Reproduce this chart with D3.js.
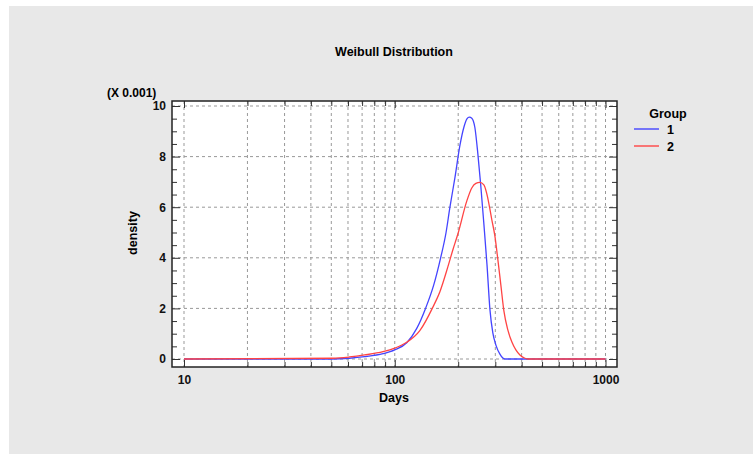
<!DOCTYPE html>
<html lang="en">
<head>
    <meta charset="UTF-8">
    <title>Weibull Distribution</title>
    <style>
        body { margin: 0; background: #fff; }
        svg { display: block; font-family: "Liberation Sans", Arial, sans-serif; }
    </style>
</head>
<body>
    <div id="graphic"></div>

    <script src="https://cdn.jsdelivr.net/npm/d3@7"></script>
    <script>
        var width = 753;
        var height = 454;

        // days, density (x 0.001)
        var group1 = [[10,0],[50.2,0],[61,0.03],[72,0.09],[88,0.21],[100,0.36],[114,0.64],[127,1.2],[140,2.0],
            [153,2.92],[165,3.99],[175,4.98],[182.5,5.97],[193,7.17],[204,8.46],[213,9.17],[220,9.49],[226,9.56],
            [232,9.52],[240,9.15],[248,8.1],[256,6.85],[265,5.3],[274,3.72],[283,1.94],[292,1.03],[302,0.55],
            [315,0.2],[333,0],[1000,0]];
        var group2 = [[10,0],[50.8,0.03],[61,0.08],[72,0.16],[88,0.29],[100,0.43],[114,0.66],[131.5,1.12],[151.5,2.04],
            [163.6,2.65],[178.6,3.64],[188.6,4.31],[199.3,4.94],[219.8,6.25],[232,6.76],[242.6,6.94],[253.4,6.98],
            [264.8,6.88],[273.6,6.52],[289,5.49],[298.7,4.86],[308.7,3.91],[318.8,2.92],[329.5,1.9],[344,1.15],
            [359.6,0.67],[375.6,0.36],[392.6,0.16],[414.7,0.03],[428,0],[1000,0]];

        var groups = ['1', '2'];
        var colors = ['#4444ff', '#ff4444'];
        var xMajor = [10, 100, 1000];
        var xMinor = [20,30,40,50,60,70,80,90,200,300,400,500,600,700,800,900];
        var yMajor = [0, 2, 4, 6, 8, 10];
        var yMinor = [0.5,1,1.5,2.5,3,3.5,4.5,5,5.5,6.5,7,7.5,8.5,9,9.5];

        var pLeft = 172, pRight = 617, pTop = 101, pBottom = 367;

        var x = d3.scaleLog().domain([10, 1000]).range([184, 605.5]);
        var y = d3.scaleLinear().domain([0, 10]).range([359, 106]);

        var svg = d3.select('#graphic')
            .append('svg')
            .attr('width', width)
            .attr('height', height);

        // gray panel
        svg.append('rect')
            .attr('x', 9).attr('y', 6)
            .attr('width', width - 9).attr('height', height - 6)
            .attr('fill', '#e8e8e8');

        svg.append('rect')
            .attr('x', pLeft).attr('y', pTop)
            .attr('width', pRight - pLeft).attr('height', pBottom - pTop)
            .attr('fill', '#fff');

        // grid
        var grid = svg.append('g')
            .attr('stroke', '#999')
            .attr('stroke-width', 1)
            .attr('stroke-dasharray', '3,3');

        grid.selectAll('.vgrid')
            .data(xMajor.concat(xMinor))
            .join('line')
            .attr('class', 'vgrid')
            .attr('x1', function(d){ return x(d); })
            .attr('x2', function(d){ return x(d); })
            .attr('y1', pTop).attr('y2', pBottom);

        grid.selectAll('.hgrid')
            .data(yMajor)
            .join('line')
            .attr('class', 'hgrid')
            .attr('x1', pLeft).attr('x2', pRight)
            .attr('y1', function(d){ return y(d); })
            .attr('y2', function(d){ return y(d); });

        // curves
        var line = d3.line()
            .x(function(d){ return x(d[0]); })
            .y(function(d){ return y(d[1]); })
            .curve(d3.curveMonotoneX);

        [group1, group2].forEach(function(g, i) {
            svg.append('path')
                .datum(g)
                .attr('d', line)
                .attr('fill', 'none')
                .attr('stroke', colors[i])
                .attr('stroke-width', 1.3);
        });

        // axes, ticks pointing into the plot
        function styleAxis(g) {
            g.select('.domain').remove();
            g.selectAll('line').attr('stroke', '#333');
            g.selectAll('text')
                .attr('font-size', 12)
                .attr('font-weight', 'bold')
                .attr('fill', '#111');
        }

        svg.append('g')
            .attr('transform', 'translate(0,' + pBottom + ')')
            .call(d3.axisBottom(x).tickValues(xMajor).tickSize(-7).tickPadding(8).tickFormat(d3.format('d')))
            .call(styleAxis);
        svg.append('g')
            .attr('transform', 'translate(0,' + pBottom + ')')
            .call(d3.axisBottom(x).tickValues(xMinor).tickSize(-5).tickFormat(''))
            .call(styleAxis);
        svg.append('g')
            .attr('transform', 'translate(0,' + pTop + ')')
            .call(d3.axisTop(x).tickValues(xMajor).tickSize(-7).tickFormat(''))
            .call(styleAxis);
        svg.append('g')
            .attr('transform', 'translate(0,' + pTop + ')')
            .call(d3.axisTop(x).tickValues(xMinor).tickSize(-5).tickFormat(''))
            .call(styleAxis);

        svg.append('g')
            .attr('transform', 'translate(' + pLeft + ',0)')
            .call(d3.axisLeft(y).tickValues(yMajor).tickSize(-8).tickPadding(6))
            .call(styleAxis);
        svg.append('g')
            .attr('transform', 'translate(' + pLeft + ',0)')
            .call(d3.axisLeft(y).tickValues(yMinor).tickSize(-5).tickFormat(''))
            .call(styleAxis);
        svg.append('g')
            .attr('transform', 'translate(' + pRight + ',0)')
            .call(d3.axisRight(y).tickValues(yMajor).tickSize(-8).tickFormat(''))
            .call(styleAxis);
        svg.append('g')
            .attr('transform', 'translate(' + pRight + ',0)')
            .call(d3.axisRight(y).tickValues(yMinor).tickSize(-5).tickFormat(''))
            .call(styleAxis);

        // frame
        svg.append('rect')
            .attr('x', pLeft).attr('y', pTop)
            .attr('width', pRight - pLeft).attr('height', pBottom - pTop)
            .attr('fill', 'none')
            .attr('stroke', '#222')
            .attr('stroke-width', 1.5);

        // texts
        svg.append('text')
            .attr('x', 394).attr('y', 56)
            .attr('text-anchor', 'middle')
            .attr('font-size', 12.5).attr('font-weight', 'bold')
            .text('Weibull Distribution');

        svg.append('text')
            .attr('x', 107).attr('y', 97)
            .attr('font-size', 12).attr('font-weight', 'bold')
            .text('(X 0.001)');

        svg.append('text')
            .attr('x', 394).attr('y', 402)
            .attr('text-anchor', 'middle')
            .attr('font-size', 12.5).attr('font-weight', 'bold')
            .text('Days');

        svg.append('text')
            .attr('transform', 'translate(137,233) rotate(-90)')
            .attr('text-anchor', 'middle')
            .attr('font-size', 12.5).attr('font-weight', 'bold')
            .text('density');

        // legend
        var legend = svg.append('g');
        legend.append('text')
            .attr('x', 668).attr('y', 118)
            .attr('text-anchor', 'middle')
            .attr('font-size', 12.5).attr('font-weight', 'bold')
            .text('Group');

        var item = legend.selectAll('.item')
            .data(groups)
            .join('g')
            .attr('class', 'item')
            .attr('transform', function(d, i){ return 'translate(0,' + (129 + i * 17) + ')'; });
        item.append('line')
            .attr('x1', 634).attr('x2', 659)
            .attr('stroke', function(d, i){ return colors[i]; })
            .attr('stroke-width', 1.4);
        item.append('text')
            .attr('x', 667).attr('y', 4.5)
            .attr('font-size', 12.5).attr('font-weight', 'bold')
            .text(function(d){ return d; });
    </script>
</body>
</html>
